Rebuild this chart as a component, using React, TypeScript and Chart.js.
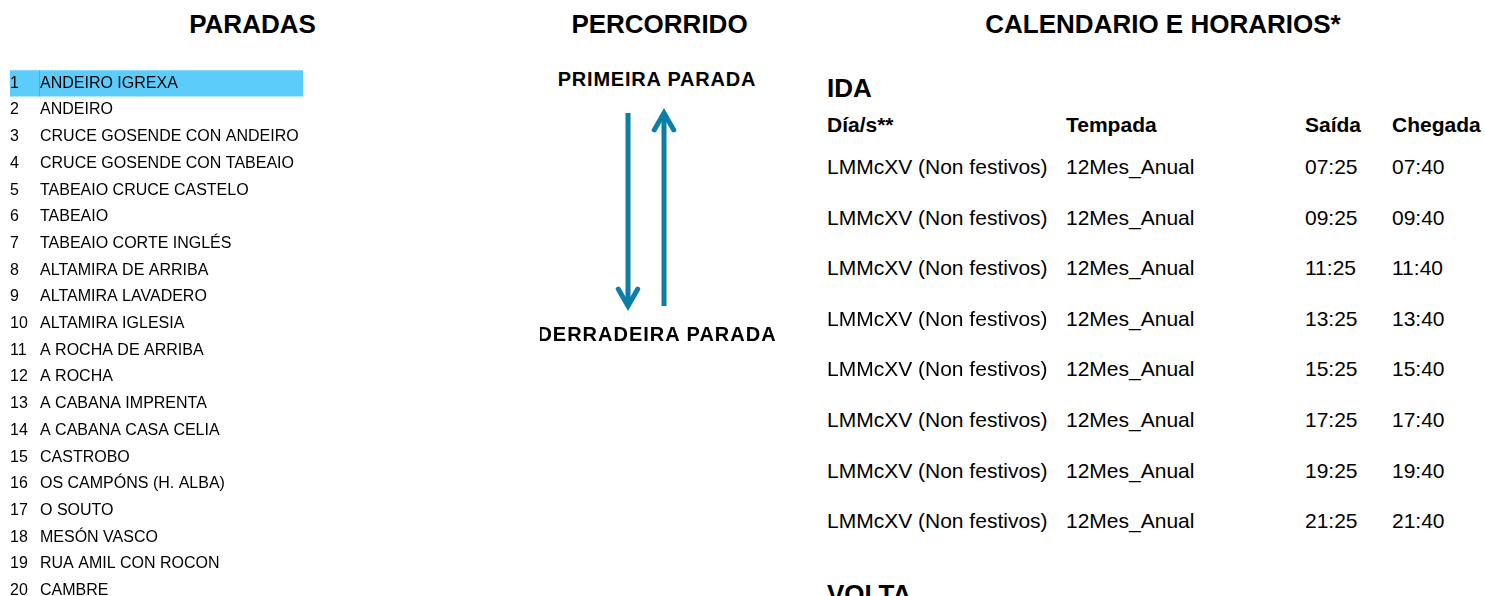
import React, { useEffect, useRef } from "react";
import { Chart, registerables } from "chart.js";

Chart.register(...registerables);

const FONT = "'Liberation Sans', Arial, Helvetica, sans-serif";
const ARROW_COLOR = "#0b7fa8";
const HIGHLIGHT_COLOR = "#5ccdfb";
const HIGHLIGHT_EDGE = "#3fb3e6";

// ---- data ----
const stopNumbers = ["1", "2", "3", "4", "5", "6", "7", "8", "9", "10", "11", "12", "13", "14", "15", "16", "17", "18", "19", "20"];
const stopNames = [
  "ANDEIRO IGREXA",
  "ANDEIRO",
  "CRUCE GOSENDE CON ANDEIRO",
  "CRUCE GOSENDE CON TABEAIO",
  "TABEAIO CRUCE CASTELO",
  "TABEAIO",
  "TABEAIO CORTE INGLÉS",
  "ALTAMIRA DE ARRIBA",
  "ALTAMIRA LAVADERO",
  "ALTAMIRA IGLESIA",
  "A ROCHA DE ARRIBA",
  "A ROCHA",
  "A CABANA IMPRENTA",
  "A CABANA CASA CELIA",
  "CASTROBO",
  "OS CAMPÓNS (H. ALBA)",
  "O SOUTO",
  "MESÓN VASCO",
  "RUA AMIL CON ROCON",
  "CAMBRE",
];
// highlighted (current) stop: 1 = highlighted row
const highlightValues = [1, 0, 0, 0, 0, 0, 0, 0, 0, 0, 0, 0, 0, 0, 0, 0, 0, 0, 0, 0];

// route direction (stop numbers, from -> to)
const idaStops = [1, 20];
const voltaStops = [20, 1];

const headingTitles = ["PARADAS", "PERCORRIDO", "CALENDARIO E HORARIOS*"];
const firstStopLabel = "PRIMEIRA PARADA";
const lastStopLabel = "DERRADEIRA PARADA";
const scheduleColumns = ["Día/s**", "Tempada", "Saída", "Chegada"];
const idaDays = [
  "LMMcXV (Non festivos)",
  "LMMcXV (Non festivos)",
  "LMMcXV (Non festivos)",
  "LMMcXV (Non festivos)",
  "LMMcXV (Non festivos)",
  "LMMcXV (Non festivos)",
  "LMMcXV (Non festivos)",
  "LMMcXV (Non festivos)",
];
const idaSeasons = ["12Mes_Anual", "12Mes_Anual", "12Mes_Anual", "12Mes_Anual", "12Mes_Anual", "12Mes_Anual", "12Mes_Anual", "12Mes_Anual"];
const idaDepartures = ["07:25", "09:25", "11:25", "13:25", "15:25", "17:25", "19:25", "21:25"];
const idaArrivals = ["07:40", "09:40", "11:40", "13:40", "15:40", "17:40", "19:40", "21:40"];

// draws stop number + name for each category row, positioned by the y scale
const stopLabelsPlugin = {
  id: "stopLabels",
  afterDatasetsDraw(chart: any) {
    const ctx = chart.ctx;
    const yScale = chart.scales.y;
    const left = chart.chartArea.left;
    ctx.save();
    ctx.font = "16px " + FONT;
    ctx.textAlign = "left";
    ctx.textBaseline = "middle";
    // thin cell edge inside highlighted rows
    const bars = chart.getDatasetMeta(0).data;
    bars.forEach((bar: any, i: number) => {
      if (highlightValues[i] > 0) {
        ctx.fillStyle = HIGHLIGHT_EDGE;
        ctx.fillRect(left + 29, bar.y - bar.height / 2, 1, bar.height);
      }
    });
    ctx.fillStyle = "#000";
    stopNumbers.forEach((n, i) => {
      const y = yScale.getPixelForValue(i);
      ctx.fillText(n, left, y);
      ctx.fillText(stopNames[i], left + 30, y);
    });
    ctx.restore();
  },
};

const arrowHeadPlugin = {
  id: "arrowHeads",
  afterDatasetsDraw(chart: any) {
    const ctx = chart.ctx;
    chart.data.datasets.forEach((ds: any, i: number) => {
      const pts = chart.getDatasetMeta(i).data;
      if (pts.length < 2) return;
      const a = pts[pts.length - 2];
      const b = pts[pts.length - 1];
      const ang = Math.atan2(b.y - a.y, b.x - a.x);
      const len = 19.5;
      const spread = (30 * Math.PI) / 180;
      ctx.save();
      ctx.strokeStyle = ds.borderColor;
      ctx.lineWidth = 5;
      ctx.lineCap = "round";
      ctx.lineJoin = "miter";
      ctx.beginPath();
      ctx.moveTo(b.x - len * Math.cos(ang - spread), b.y - len * Math.sin(ang - spread));
      ctx.lineTo(b.x, b.y);
      ctx.lineTo(b.x - len * Math.cos(ang + spread), b.y - len * Math.sin(ang + spread));
      ctx.stroke();
      ctx.restore();
    });
  },
};

type TProps = {
  x: number;
  y: number;
  text: string;
  size: number;
  bold?: boolean;
  center?: boolean;
  ls?: number;
};

function T({ x, y, text, size, bold, center, ls }: TProps) {
  return (
    <div
      style={{
        position: "absolute",
        left: x,
        top: y - 20,
        height: 40,
        lineHeight: "40px",
        fontFamily: FONT,
        fontSize: size,
        fontWeight: bold ? 700 : 400,
        whiteSpace: "nowrap",
        color: "#000",
        letterSpacing: ls ? ls : 0,
        transform: center ? "translateX(-50%)" : undefined,
      }}
    >
      {text}
    </div>
  );
}

export default function App() {
  const stopsRef = useRef<HTMLCanvasElement | null>(null);
  const arrowRef = useRef<HTMLCanvasElement | null>(null);

  useEffect(() => {
    const stopsChart = new Chart(stopsRef.current as HTMLCanvasElement, {
      type: "bar",
      data: {
        labels: stopNumbers,
        datasets: [
          {
            data: highlightValues,
            backgroundColor: HIGHLIGHT_COLOR,
            borderWidth: 0,
            barPercentage: 0.98,
            categoryPercentage: 1,
          },
        ],
      },
      options: {
        indexAxis: "y",
        animation: false,
        responsive: false,
        maintainAspectRatio: false,
        events: [],
        layout: { padding: { left: 10, right: 17, top: 0, bottom: 0 } },
        plugins: { legend: { display: false }, tooltip: { enabled: false }, title: { display: false } },
        scales: {
          x: { display: false, min: 0, max: 1 },
          y: { type: "category", offset: true, display: false },
        },
      } as any,
      plugins: [stopLabelsPlugin],
    });

    const arrowChart = new Chart(arrowRef.current as HTMLCanvasElement, {
      type: "line",
      data: {
        datasets: [
          { label: "IDA", data: idaStops.map((s) => ({ x: 0, y: s })), borderColor: ARROW_COLOR },
          { label: "VOLTA", data: voltaStops.map((s) => ({ x: 1, y: s })), borderColor: ARROW_COLOR },
        ],
      },
      options: {
        animation: false,
        responsive: false,
        maintainAspectRatio: false,
        events: [],
        layout: { padding: { left: 0, right: 0, top: 13, bottom: 14 } },
        plugins: { legend: { display: false }, tooltip: { enabled: false } },
        elements: {
          point: { radius: 0 },
          line: { borderWidth: 5, tension: 0, borderCapStyle: "butt" },
        },
        scales: {
          x: { type: "linear", min: -1, max: 2, display: false },
          y: { type: "linear", min: 1, max: 20, reverse: true, display: false },
        },
      } as any,
      plugins: [arrowHeadPlugin],
    });

    return () => {
      stopsChart.destroy();
      arrowChart.destroy();
    };
  }, []);

  const colX = [827, 1066, 1305, 1392];
  const rowY = [167, 218, 268, 319, 369, 420, 471, 521];

  return (
    <div
      style={{
        position: "fixed",
        left: 0,
        top: 0,
        width: 1485,
        height: 596,
        overflow: "hidden",
        background: "#fff",
      }}
    >
      <T x={252.5} y={24} text={headingTitles[0]} size={26} bold center />
      <T x={659.5} y={24} text={headingTitles[1]} size={26} bold center />
      <T x={1163} y={24} text={headingTitles[2]} size={26} bold center />

      <canvas ref={stopsRef} width={320} height={534} style={{ position: "absolute", left: 0, top: 70 }} />

      <T x={657} y={79} text={firstStopLabel} size={20} bold center ls={0.8} />
      <canvas ref={arrowRef} width={108} height={220} style={{ position: "absolute", left: 592, top: 100 }} />
      <div style={{ position: "absolute", left: 540, top: 300, width: 260, height: 70, overflow: "hidden" }}>
        <T x={117} y={34} text={lastStopLabel} size={20} bold center ls={1.0} />
      </div>

      <T x={827} y={88} text="IDA" size={26} bold />
      {scheduleColumns.map((c, i) => (
        <T key={"h" + i} x={colX[i]} y={125} text={c} size={21} bold />
      ))}
      {idaDays.map((d, i) => (
        <React.Fragment key={"r" + i}>
          <T x={colX[0]} y={rowY[i]} text={d} size={21} />
          <T x={colX[1]} y={rowY[i]} text={idaSeasons[i]} size={21} />
          <T x={colX[2]} y={rowY[i]} text={idaDepartures[i]} size={21} />
          <T x={colX[3]} y={rowY[i]} text={idaArrivals[i]} size={21} />
        </React.Fragment>
      ))}
      <T x={827} y={594} text="VOLTA" size={26} bold />
    </div>
  );
}
